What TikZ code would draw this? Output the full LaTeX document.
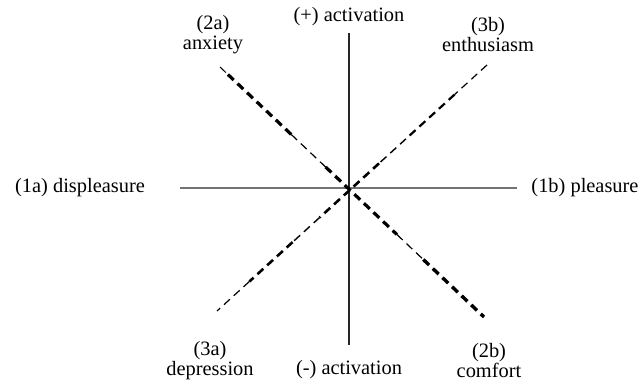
\documentclass[tikz,border=0pt]{standalone}
\usepackage{fontspec}
\setmainfont{Liberation Serif}
\usetikzlibrary{calc}

\begin{document}
\begin{tikzpicture}[
        x=0.5pt, y=-0.5pt,
        every node/.style={font=\fontsize{10.2}{10}\selectfont},
        pole/.style={align=center, inner sep=0pt},
        axis/.style={line width=1pt, black!85},
        haxis/.style={line width=1.3pt, black!55},
        dashline/.style={dash pattern=on 4pt off 2.6pt}
    ]
    \useasboundingbox (0,0) rectangle (644,385);

    % Axis end points
    \coordinate (top) at (349,33);
    \coordinate (bottom) at (349,345);
    \coordinate (left) at (180,188);
    \coordinate (right) at (517,188);
    \coordinate (c) at (349,188);

    % Diagonal end points
    \coordinate (anxend) at (220,67);
    \coordinate (comend) at (484,317);
    \coordinate (enthend) at (487,65);
    \coordinate (depend) at (217,311);

    % Labels
    \node[pole] (actup) at (349,17) {(+) activation};
    \node[pole] (actdown) at (349,370) {(-) activation};
    \node[pole] (displeasure) at (80,188) {(1a) displeasure};
    \node[pole] (pleasure) at (585,188) {(1b) pleasure};
    \node[pole] (anxiety) at (213,35) {(2a)\\anxiety};
    \node[pole] (enthusiasm) at (488,35) {(3b)\\enthusiasm};
    \node[pole] (depression) at (210,361) {(3a)\\depression};
    \node[pole] (comfort) at (489,361) {(2b)\\comfort};

    % Axes
    \draw[haxis] (left) -- (right);
    \draw[axis] (top) -- (bottom);

    % Diagonals (uneven dash weight)
    \foreach \a/\b/\w in {0/0.03/0.5, 0.03/0.27/1.6, 0.27/0.40/0.6, 0.40/0.67/1.6, 0.67/0.77/0.6, 0.77/1/1.7}
        \draw[dashline, line width=\w pt] ($(anxend)!\a!(comend)$) -- ($(anxend)!\b!(comend)$);
    \foreach \a/\b/\w in {0/0.12/0.6, 0.12/0.30/1.1, 0.30/0.40/0.7, 0.40/0.62/1.3, 0.62/0.72/0.7, 0.72/0.88/1.3, 0.88/1/0.6}
        \draw[dashline, line width=\w pt] ($(enthend)!\a!(depend)$) -- ($(enthend)!\b!(depend)$);

\end{tikzpicture}
\end{document}
